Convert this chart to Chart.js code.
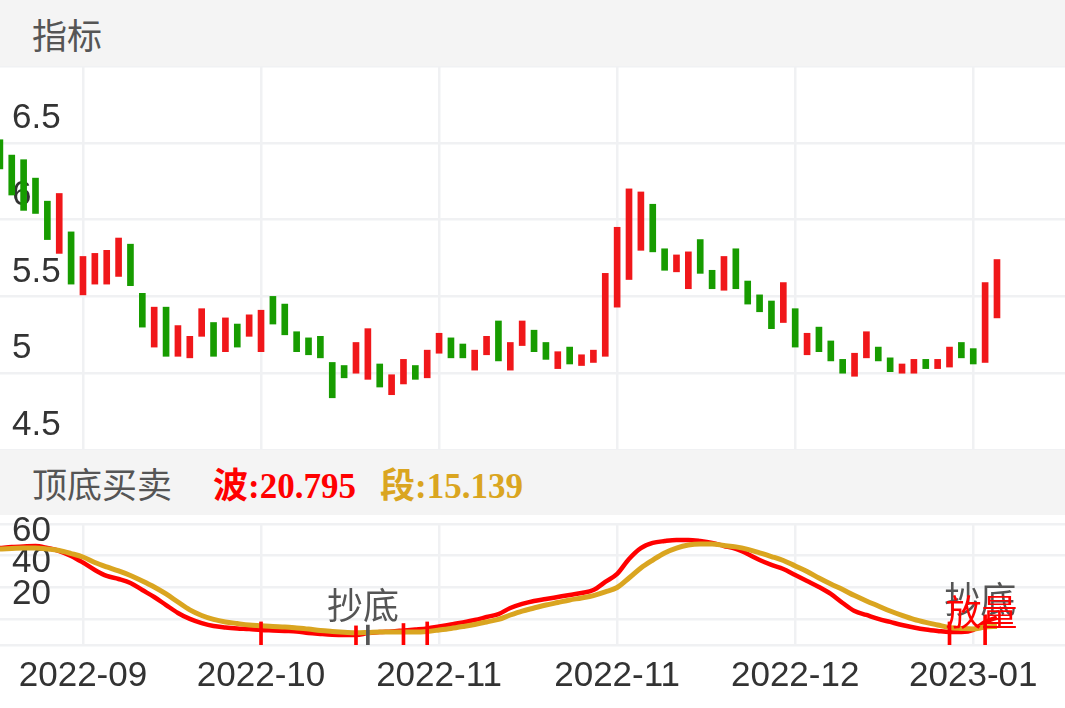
<!DOCTYPE html>
<html>
<head>
<meta charset="utf-8">
<script src="https://cdn.jsdelivr.net/npm/chart.js@4.4.0/dist/chart.umd.min.js"></script>
<style>
  html, body { margin: 0; padding: 0; background: #fff; width: 1065px; height: 708px; overflow: hidden; }
  .band { position: absolute; left: 0; width: 1065px; background: #f4f4f4; display: flex; align-items: center;
          font-family: "Noto Sans CJK SC", sans-serif; font-size: 35px; color: #555; }
  .band span { position: absolute; }
  .num { font-family: "Liberation Serif", "Noto Sans CJK SC", serif; font-weight: bold; font-size: 35px; }
  canvas { position: absolute; left: 0; }
</style>
</head>
<body>
<div class="band" style="top:0;height:66px;"><span style="left:32px;">指标</span></div>
<canvas id="kline" width="1065" height="384" style="top:66px;"></canvas>
<div class="band" style="top:450px;height:65px;">
  <span style="left:32px;">顶底买卖</span>
  <span class="num" style="left:213px;color:#ff0000;">波:20.795</span>
  <span class="num" style="left:380px;color:#daa520;">段:15.139</span>
</div>
<canvas id="ind" width="1065" height="193" style="top:515px;"></canvas>

<script>
// candle bodies (open / close), one per trading day
const openPx = [6.52,6.42,6.39,6.27,6.12,5.78,5.92,5.51,5.58,5.58, 5.63,5.84,5.52,5.17,5.43,5.11,5.10,5.24,5.33,5.14,
  5.32,5.24,5.14,5.50,5.45,5.27,5.23,5.24,5.07,5.05, 5.00,4.96,5.06,4.86,4.93,5.05,4.97,5.13,5.23,5.19,
  5.02,5.12,5.34,5.02,5.18,5.28,5.20,5.03,5.17,5.05, 5.07,5.11,5.43,5.61,5.80,6.10,5.81,5.66,5.55,5.87,
  5.67,5.54,5.81,5.60,5.51,5.47,5.33,5.42,5.12,5.30, 5.21,5.09,4.98,5.10,5.17,5.10,5.00,5.00,5.09,5.03,
  5.04,5.20,5.16,5.07,5.36];
const closePx = [6.33,6.16,6.06,6.04,5.87,6.17,5.58,5.76,5.78,5.80, 5.88,5.57,5.30,5.43,5.11,5.31,5.24,5.42,5.11,5.36,
  5.17,5.38,5.41,5.32,5.25,5.14,5.12,5.10,4.84,4.97, 5.20,5.29,4.91,4.99,5.09,4.96,5.15,5.26,5.10,5.10,
  5.15,5.24,5.08,5.20,5.34,5.14,5.09,5.14,5.06,5.12, 5.15,5.65,5.95,6.20,6.18,5.79,5.67,5.77,5.79,5.65,
  5.55,5.76,5.55,5.45,5.40,5.29,5.59,5.17,5.26,5.14, 5.08,5.00,5.13,5.27,5.08,5.01,5.06,5.09,5.03,5.09,
  5.17,5.10,5.06,5.59,5.74];

// 顶底买卖 indicator lines
const wave = [64.8,65.4,65.8,66.1,64.8,62.9,59.8,55.6,50.9,47.1, 45.2,42.7,38.2,33.8,28.7,23.7,19.9,17.3,15.4,14.5,
  13.9,13.5,12.9,12.6,12.3,12.0,11.0,10.4,9.9,9.7, 9.7,11.0,11.6,12.0,12.6,13.2,13.9,15.1,16.4,17.7,
  19.2,21.1,23.0,26.8,29.4,31.3,32.5,33.8,35.1,36.3, 38.2,43.3,48.4,57.9,64.8,68.0,69.2,69.9,69.9,69.2,
  68.0,66.1,64.2,61.0,57.2,54.1,51.5,47.7,43.9,40.1, 35.7,30.0,24.9,22.4,19.9,18.0,16.1,14.5,13.2,12.3,
  11.6,11.6,12.9,18.0,20.795];
const segment = [64.2,64.5,64.8,64.8,64.2,63.2,61.3,59.1,55.6,52.8, 50.3,47.4,43.9,40.1,35.7,30.6,25.6,22.1,19.6,18.0,
  17.0,16.1,15.6,15.1,14.8,14.2,13.5,12.6,12.0,11.5, 11.1,11.3,11.6,11.6,11.6,11.6,12.0,12.9,13.9,15.1,
  16.4,18.0,19.6,22.4,24.9,26.8,28.7,30.3,31.9,33.2, 34.7,37.0,39.8,45.8,52.2,57.2,61.7,64.8,66.7,67.3,
  67.3,66.4,65.5,63.9,61.7,59.4,56.9,53.4,49.9,45.8, 42.0,38.5,34.7,31.3,28.1,24.9,22.1,19.6,17.7,16.1,
  14.5,13.9,13.5,14.8,15.139];

// signal marks under the lines
const markIdx = [22, 30, 31, 34, 36, 80, 83];
const markTop = [18, 15.5, 16, 17, 18, 18, 22.5];
const markType = ["buy", "buy", "base", "buy", "buy", "buy", "buy"];

// text notes on the indicator panel
const noteIdx = [30.6, 82.6, 82.7];
const noteVal = [28.7, 32.5, 24.3];
const noteText = ["抄底", "抄底", "放量"];
const noteColor = ["#555555", "#555555", "#ff0000"];

// axes
const tickIdx = [7, 22, 37, 52, 67, 82];
const tickLabels = ["2022-09", "2022-10", "2022-11", "2022-11", "2022-12", "2023-01"];
const priceTicks = [4.5, 5, 5.5, 6, 6.5, 7];
const priceLabels = ["4.5", "5", "5.5", "6", "6.5", ""];
const indTicks = [3.4, 20, 40, 60, 80];
const indLabels = ["", "20", "40", "60", ""];

const X_MIN = 0.01, X_MAX = 89.73;
const RED = "#f0171a", GREEN = "#179c00";
const gridColor = "#f0f1f3";
const tickFont = { family: "Liberation Sans, Arial, sans-serif", size: 35 };

function xScale(showLabels, axisHeight) {
  return {
    type: "linear", min: X_MIN, max: X_MAX, offset: false,
    afterBuildTicks: s => { s.ticks = tickIdx.map(v => ({ value: v })); },
    afterFit: s => { s.paddingLeft = 0; s.paddingRight = 0; s.height = axisHeight; },
    ticks: { display: showLabels, autoSkip: false, maxRotation: 0, padding: 10, color: "#333", font: tickFont,
             callback: (v, i) => tickLabels[i] },
    grid: { color: gridColor, lineWidth: 2.5, drawTicks: false, offset: false },
    border: { display: false }
  };
}

function yScale(min, max, vals, labels) {
  return {
    min, max,
    afterBuildTicks: s => { s.ticks = vals.map(v => ({ value: v })); },
    afterFit: s => { s.paddingTop = 0; s.paddingBottom = 0; s.width = 0; },
    ticks: { mirror: true, autoSkip: false, padding: 12, labelOffset: -24.5, color: "#333", font: tickFont,
             callback: (v, i) => labels[i] },
    grid: { color: gridColor, lineWidth: 2.5, drawTicks: false },
    border: { display: false }
  };
}

new Chart(document.getElementById("kline"), {
  type: "bar",
  data: {
    datasets: [{
      data: openPx.map((o, i) => ({ x: i, y: [o, closePx[i]] })),
      backgroundColor: openPx.map((o, i) => closePx[i] >= o ? RED : GREEN),
      barThickness: 6,
      borderWidth: 0,
      borderSkipped: false
    }]
  },
  options: {
    responsive: false,
    animation: false,
    layout: { autoPadding: false, padding: 0 },
    plugins: { legend: { display: false }, tooltip: { enabled: false } },
    scales: { x: xScale(false, 0), y: yScale(4.5, 7, priceTicks, priceLabels) }
  }
});

const notesPlugin = {
  id: "notes",
  afterDatasetsDraw(chart) {
    const ctx = chart.ctx, xs = chart.scales.x, ys = chart.scales.y;
    ctx.save();
    ctx.font = '36px "Noto Sans CJK SC", sans-serif';
    ctx.textAlign = "center";
    ctx.textBaseline = "middle";
    noteText.forEach((t, i) => {
      ctx.fillStyle = noteColor[i];
      ctx.fillText(t, xs.getPixelForValue(noteIdx[i]), ys.getPixelForValue(noteVal[i]));
    });
    ctx.restore();
  }
};

new Chart(document.getElementById("ind"), {
  data: {
    datasets: [
      {
        type: "bar",
        data: markIdx.map((x, i) => ({ x, y: [indTicks[0], markTop[i]] })),
        backgroundColor: markType.map(t => t === "base" ? "#555555" : "#ff0000"),
        barThickness: 3, borderWidth: 0, borderSkipped: false,
        order: 0
      },
      {
        type: "line",
        data: segment.map((v, i) => ({ x: i, y: v })),
        borderColor: "#daa520", borderWidth: 5, pointRadius: 0,
        tension: 0.4, cubicInterpolationMode: "monotone",
        order: 1
      },
      {
        type: "line",
        data: wave.map((v, i) => ({ x: i, y: v })),
        borderColor: "#ff0000", borderWidth: 4.5, pointRadius: 0,
        tension: 0.4, cubicInterpolationMode: "monotone",
        order: 2
      }
    ]
  },
  options: {
    responsive: false,
    animation: false,
    layout: { autoPadding: false, padding: { top: 9, bottom: 0, left: 0, right: 0 } },
    plugins: { legend: { display: false }, tooltip: { enabled: false } },
    scales: { x: xScale(true, 63), y: yScale(3.4, 80, indTicks, indLabels) }
  },
  plugins: [notesPlugin]
});
</script>
</body>
</html>
